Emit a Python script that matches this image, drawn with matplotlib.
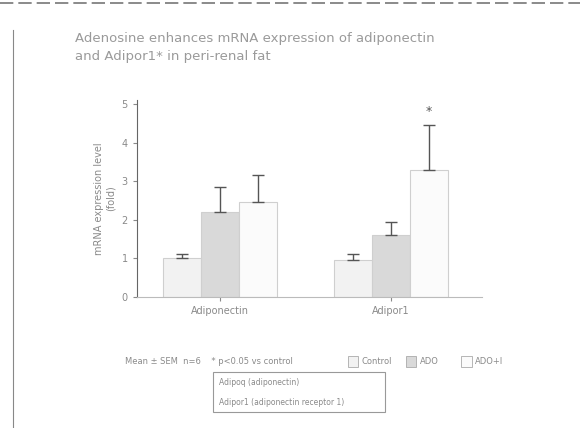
import numpy as np
import matplotlib.pyplot as plt
from matplotlib.patches import Rectangle

# datos
genes = ["Adiponectin", "Adipor1"]
grupos = ["Control", "ADO", "ADO+I"]
medias = [[1.0, 2.2, 2.45],
          [0.97, 1.6, 3.3]]
errores = [[0.12, 0.65, 0.7],
           [0.15, 0.35, 1.15]]
significativo = [[False, False, False],
                 [False, False, True]]

colores = ["#f2f2f2", "#d9d9d9", "#fbfbfb"]
gris = "#8a8a8a"

fig = plt.figure(figsize=(5.8, 4.28), dpi=100)
ax = fig.add_axes([0.236, 0.306, 0.595, 0.46])

centros = np.array([0.0, 4.5])
for i in range(len(genes)):
    for j in range(len(grupos)):
        x = centros[i] + (j - 1)
        ax.bar(x, medias[i][j], width=1.0, color=colores[j],
               edgecolor="#cfcfcf", linewidth=0.8)
        ax.errorbar(x, medias[i][j], yerr=[[0], [errores[i][j]]], fmt="none",
                    ecolor="#555555", elinewidth=1.0, capsize=4)
        if significativo[i][j]:
            ax.text(x, medias[i][j] + errores[i][j] + 0.2, "*", ha="center",
                    va="bottom", color="#555555", fontsize=9)

ax.set_xlim(-2.18, 6.9)
ax.set_ylim(0, 5.1)
ax.set_yticks(range(6))
ax.set_xticks(centros)
ax.set_xticklabels(genes)
ax.tick_params(colors=gris, labelsize=7, length=3)
for lado in ["top", "right"]:
    ax.spines[lado].set_visible(False)
ax.spines["left"].set_color("#666666")
ax.spines["bottom"].set_color("#bbbbbb")
ax.set_ylabel("mRNA expression level\n(fold)", color=gris, fontsize=7)

fig.text(0.13, 0.89, "Adenosine enhances mRNA expression of adiponectin\nand Adipor1* in peri-renal fat",
         color="#9a9a9a", fontsize=9.5, va="center", linespacing=1.5)

# leyenda
fig.text(0.215, 0.155, "Mean ± SEM  n=6    * p<0.05 vs control", color=gris, fontsize=6, va="center")
xs = [0.60, 0.70, 0.795]
for j in range(len(grupos)):
    fig.patches.append(Rectangle((xs[j], 0.143), 0.018, 0.025, transform=fig.transFigure,
                                 facecolor=colores[j], edgecolor="#aaaaaa", linewidth=0.6))
    fig.text(xs[j] + 0.024, 0.155, grupos[j], color=gris, fontsize=6, va="center")

fig.patches.append(Rectangle((0.367, 0.037), 0.297, 0.093, transform=fig.transFigure,
                             facecolor="white", edgecolor="#999999", linewidth=0.8))
fig.text(0.378, 0.107, "Adipoq (adiponectin)", color=gris, fontsize=5.5, va="center")
fig.text(0.378, 0.06, "Adipor1 (adiponectin receptor 1)", color=gris, fontsize=5.5, va="center")

# bordes del escaneo
fig.add_artist(plt.Line2D([0.0, 1.0], [0.993, 0.993], color="#777777", linewidth=1.2,
                          linestyle=(0, (8, 3))))
fig.add_artist(plt.Line2D([0.022, 0.022], [0.0, 0.93], color="#888888", linewidth=0.8))

fig.savefig("out.png", dpi=100)
